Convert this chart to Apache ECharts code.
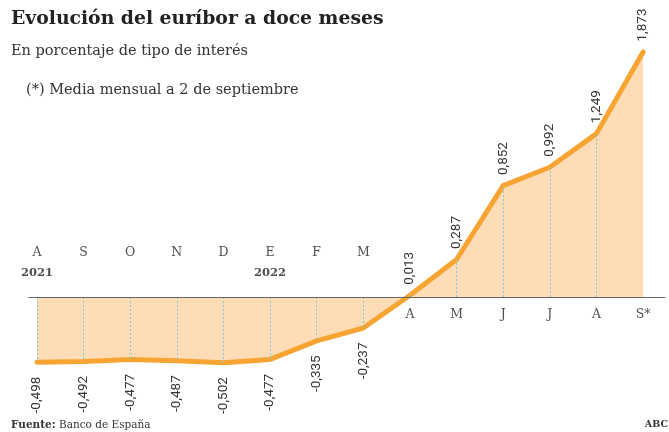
<!DOCTYPE html>
<html>
<head>
<meta charset="utf-8">
<script src="https://cdn.jsdelivr.net/npm/echarts@6/dist/echarts.min.js"></script>
<style>
  html, body { margin: 0; padding: 0; background: #fff; }
  #chart { width: 669px; height: 432px; }
</style>
</head>
<body>
<div id="chart"></div>
<script>
// datos
const months = ['A', 'S', 'O', 'N', 'D', 'E', 'F', 'M', 'A', 'M', 'J', 'J', 'A', 'S*'];
const years = ['2021', '', '', '', '', '2022', '', '', '', '', '', '', '', ''];
const euribor = [-0.498, -0.492, -0.477, -0.487, -0.502, -0.477, -0.335, -0.237, 0.013, 0.287, 0.852, 0.992, 1.249, 1.873];

const serif = 'DejaVu Serif';
const fmt = v => v.toFixed(3).replace('.', ',');

const chart = echarts.init(document.getElementById('chart'));

// puntos de la serie con etiqueta girada arriba o abajo segun el signo
const points = euribor.map((v, i) => ({
  value: [i, v],
  label: v < 0
    ? {position: 'bottom', align: 'right', distance: 14}
    : {position: 'top', align: 'left', distance: 10}
}));

// meses sobre el eje (arriba si el valor es negativo)
const monthPoints = months.map((m, i) => ({
  value: [i, 0],
  label: euribor[i] < 0
    ? {position: 'top', distance: 14, formatter: '{m|' + m + '}\n{y|' + (years[i] || ' ') + '}'}
    : {position: 'bottom', distance: 8, formatter: '{m|' + m + '}'}
}));

// lineas punteadas de cada punto al cero
const dropLines = euribor.slice(0, -1).map((v, i) => [{coord: [i, 0]}, {coord: [i, v]}]);

const option = {
  animation: false,
  title: [
    {
      text: 'Evolución del euríbor a doce meses',
      left: 11, top: 10, padding: 0,
      textStyle: {fontFamily: serif, fontWeight: 'bold', fontSize: 18.8, color: '#222'}
    },
    {
      text: 'En porcentaje de tipo de interés',
      left: 11, top: 44, padding: 0,
      textStyle: {fontFamily: serif, fontWeight: 'normal', fontSize: 14.5, color: '#333'}
    },
    {
      text: '(*) Media mensual a 2 de septiembre',
      left: 26, top: 83, padding: 0,
      textStyle: {fontFamily: serif, fontWeight: 'normal', fontSize: 14.5, color: '#333'}
    },
    {
      text: '{b|Fuente:} Banco de España',
      left: 11, top: 420, padding: 0,
      textStyle: {
        fontFamily: serif, fontWeight: 'normal', fontSize: 10.5, color: '#333',
        rich: {b: {fontFamily: serif, fontWeight: 'bold', fontSize: 10.5, color: '#333'}}
      }
    },
    {
      text: 'ABC',
      right: 1, top: 420, padding: 0,
      textStyle: {fontFamily: serif, fontWeight: 'bold', fontSize: 9.5, color: '#333'}
    }
  ],
  grid: {left: 29, right: 4, top: 10, bottom: 12},
  xAxis: {
    type: 'value',
    min: -0.17,
    max: 13.47,
    z: 10,
    axisLine: {show: true, onZero: true, lineStyle: {color: '#666', width: 1}},
    axisTick: {show: false},
    axisLabel: {show: false},
    splitLine: {show: false}
  },
  yAxis: {
    type: 'value',
    min: -0.94,
    max: 2.194,
    show: false,
    splitLine: {show: false}
  },
  series: [
    {
      // relleno
      type: 'line',
      z: 1,
      silent: true,
      data: euribor.map((v, i) => [i, v]),
      symbol: 'none',
      lineStyle: {width: 0},
      areaStyle: {color: '#fddcb6', opacity: 1}
    },
    {
      // meses y lineas punteadas
      type: 'scatter',
      z: 2,
      silent: true,
      symbolSize: 0,
      data: monthPoints,
      label: {
        show: true,
        color: '#222',
        fontFamily: serif,
        fontSize: 12.5,
        rich: {
          m: {fontFamily: serif, fontSize: 12.5, color: '#222', lineHeight: 20},
          y: {fontFamily: serif, fontSize: 11.5, fontWeight: 'bold', color: '#222', lineHeight: 20}
        }
      },
      markLine: {
        silent: true,
        symbol: ['none', 'none'],
        label: {show: false},
        lineStyle: {color: '#79c9dc', type: [2, 2], width: 1},
        data: dropLines
      }
    },
    {
      // linea del euribor
      type: 'line',
      z: 3,
      data: points,
      symbol: 'circle',
      symbolSize: 1,
      itemStyle: {color: 'rgba(0,0,0,0)'},
      lineStyle: {color: '#f8a433', width: 5, cap: 'round', join: 'round'},
      label: {
        show: true,
        rotate: 90,
        verticalAlign: 'middle',
        fontFamily: 'Roboto',
        fontSize: 13.5,
        color: '#333',
        formatter: p => fmt(p.value[1])
      }
    }
  ]
};

chart.setOption(option);
</script>
</body>
</html>
